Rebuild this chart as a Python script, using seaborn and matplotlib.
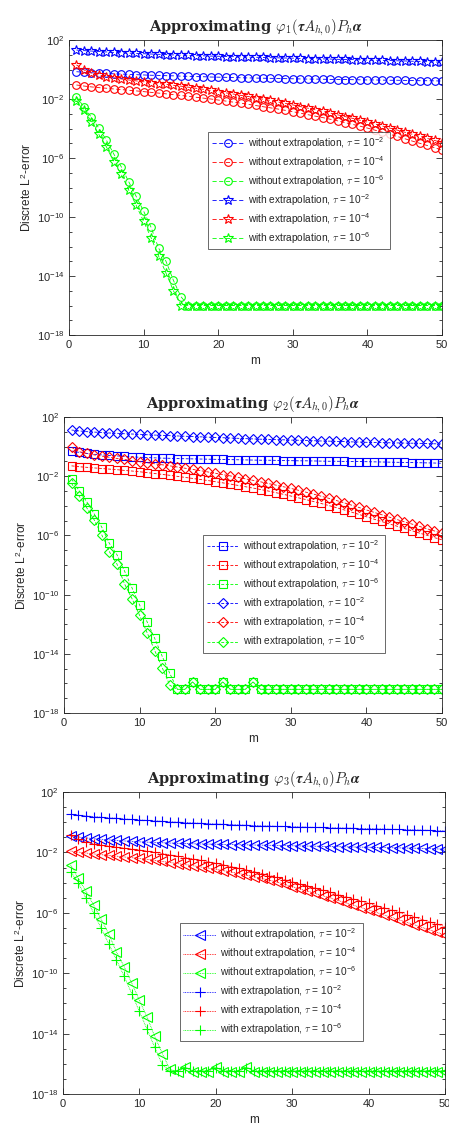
import numpy as np
import pandas as pd
import matplotlib
matplotlib.use("Agg")
import matplotlib.pyplot as plt
from matplotlib.ticker import NullFormatter, FixedLocator
import seaborn as sns

# ---------------- data (log10 of the discrete L2 error) ----------------
m = list(range(1, 51))

# Panel 1: phi_1
p1_wo_2 = [-0.15, -0.19, -0.22, -0.25, -0.27, -0.29, -0.31, -0.33, -0.35, -0.37,
           -0.39, -0.40, -0.42, -0.43, -0.45, -0.46, -0.48, -0.49, -0.51, -0.52,
           -0.53, -0.54, -0.56, -0.57, -0.58, -0.59, -0.60, -0.61, -0.62, -0.63,
           -0.64, -0.65, -0.65, -0.66, -0.67, -0.68, -0.68, -0.69, -0.70, -0.71,
           -0.71, -0.72, -0.73, -0.73, -0.74, -0.75, -0.76, -0.76, -0.77, -0.78]
p1_wo_4 = [-1.05, -1.12, -1.18, -1.23, -1.27, -1.32, -1.36, -1.41, -1.45, -1.50,
           -1.55, -1.60, -1.65, -1.70, -1.76, -1.82, -1.88, -1.94, -2.00, -2.07,
           -2.14, -2.21, -2.28, -2.36, -2.44, -2.52, -2.60, -2.68, -2.77, -2.86,
           -2.96, -3.06, -3.16, -3.26, -3.37, -3.48, -3.60, -3.72, -3.84, -3.97,
           -4.11, -4.25, -4.39, -4.54, -4.69, -4.85, -5.00, -5.15, -5.30, -5.46]
p1_wo_6 = [-1.84, -2.55, -3.24, -3.97, -4.78, -5.73, -6.59, -7.60, -8.60, -9.60,
           -10.70, -12.10, -13.00, -14.30, -15.40] + [-16.0] * 35
p1_w_2 = [1.32, 1.28, 1.25, 1.22, 1.19, 1.16, 1.14, 1.11, 1.09, 1.07,
          1.05, 1.03, 1.01, 0.99, 0.97, 0.96, 0.94, 0.93, 0.91, 0.90,
          0.88, 0.87, 0.86, 0.84, 0.83, 0.82, 0.80, 0.79, 0.78, 0.77,
          0.75, 0.74, 0.73, 0.72, 0.71, 0.69, 0.68, 0.67, 0.66, 0.64,
          0.63, 0.62, 0.61, 0.59, 0.58, 0.56, 0.55, 0.53, 0.51, 0.49]
p1_w_4 = [0.31, -0.03, -0.24, -0.39, -0.50, -0.57, -0.64, -0.71, -0.77, -0.83,
          -0.89, -0.95, -1.01, -1.07, -1.13, -1.20, -1.27, -1.34, -1.42, -1.50,
          -1.58, -1.66, -1.75, -1.83, -1.92, -2.01, -2.10, -2.20, -2.30, -2.40,
          -2.51, -2.62, -2.73, -2.84, -2.95, -3.07, -3.19, -3.31, -3.44, -3.57,
          -3.70, -3.83, -3.97, -4.11, -4.25, -4.39, -4.53, -4.67, -4.81, -4.96]
p1_w_6 = [-2.14, -2.75, -3.54, -4.40, -5.23, -6.25, -7.10, -8.17, -9.20, -10.30,
          -11.40, -12.64, -13.80, -15.00] + [-16.0] * 36

# Panel 2: phi_2
p2_wo_2 = [-0.30, -0.39, -0.46, -0.52, -0.56, -0.60, -0.63, -0.66, -0.69, -0.72,
           -0.74, -0.76, -0.78, -0.79, -0.81, -0.82, -0.83, -0.84, -0.85, -0.86,
           -0.87, -0.88, -0.89, -0.90, -0.91, -0.92, -0.92, -0.93, -0.94, -0.95,
           -0.96, -0.96, -0.97, -0.98, -0.99, -0.99, -1.00, -1.01, -1.01, -1.02,
           -1.03, -1.04, -1.05, -1.06, -1.07, -1.08, -1.09, -1.10, -1.11, -1.13]
p2_wo_4 = [-1.30, -1.36, -1.40, -1.44, -1.48, -1.52, -1.56, -1.61, -1.65, -1.70,
           -1.76, -1.82, -1.88, -1.94, -2.01, -2.08, -2.15, -2.22, -2.29, -2.37,
           -2.45, -2.53, -2.62, -2.71, -2.80, -2.90, -3.00, -3.11, -3.22, -3.34,
           -3.46, -3.58, -3.71, -3.84, -3.98, -4.12, -4.27, -4.42, -4.58, -4.74,
           -4.90, -5.06, -5.22, -5.37, -5.53, -5.68, -5.84, -5.99, -6.15, -6.30]
p2_wo_6 = [-2.19, -2.98, -3.72, -4.55, -5.45, -6.54, -7.30, -8.40, -9.55, -10.70,
           -11.85, -12.96, -14.18, -15.33, -16.40, -16.40, -15.90, -16.40, -16.40, -16.40,
           -15.90, -16.40, -16.40, -16.40, -15.90] + [-16.40] * 25
p2_w_2 = [1.12, 1.06, 1.01, 0.98, 0.95, 0.92, 0.90, 0.87, 0.85, 0.83,
          0.80, 0.78, 0.76, 0.74, 0.72, 0.70, 0.68, 0.66, 0.64, 0.62,
          0.60, 0.58, 0.56, 0.54, 0.52, 0.50, 0.49, 0.47, 0.46, 0.44,
          0.43, 0.41, 0.40, 0.38, 0.37, 0.35, 0.34, 0.32, 0.31, 0.29,
          0.28, 0.27, 0.26, 0.25, 0.24, 0.23, 0.22, 0.21, 0.19, 0.18]
p2_w_4 = [-0.05, -0.34, -0.46, -0.56, -0.64, -0.72, -0.80, -0.87, -0.95, -1.02,
          -1.09, -1.16, -1.23, -1.30, -1.38, -1.46, -1.54, -1.62, -1.71, -1.80,
          -1.89, -1.98, -2.08, -2.18, -2.28, -2.38, -2.49, -2.60, -2.71, -2.82,
          -2.95, -3.08, -3.21, -3.35, -3.49, -3.64, -3.79, -3.95, -4.11, -4.28,
          -4.44, -4.60, -4.76, -4.92, -5.08, -5.23, -5.39, -5.55, -5.70, -5.86]
p2_w_6 = [-2.48, -3.34, -4.13, -4.96, -5.97, -7.10, -7.93, -9.27, -10.28, -11.40,
          -12.58, -13.78, -14.95, -16.13, -16.40, -16.40, -15.90, -16.40, -16.40, -16.40,
          -15.90, -16.40, -16.40, -16.40, -15.90] + [-16.40] * 25

# Panel 3: phi_3
p3_wo_2 = [-0.91, -0.98, -1.04, -1.09, -1.13, -1.17, -1.20, -1.24, -1.27, -1.30,
           -1.32, -1.34, -1.36, -1.38, -1.40, -1.41, -1.43, -1.44, -1.45, -1.46,
           -1.47, -1.48, -1.49, -1.50, -1.51, -1.52, -1.53, -1.54, -1.55, -1.56,
           -1.57, -1.58, -1.59, -1.60, -1.61, -1.62, -1.63, -1.64, -1.65, -1.66,
           -1.67, -1.68, -1.69, -1.70, -1.71, -1.72, -1.74, -1.75, -1.77, -1.79]
p3_wo_4 = [-1.91, -1.98, -2.04, -2.10, -2.15, -2.20, -2.25, -2.30, -2.35, -2.40,
           -2.46, -2.53, -2.60, -2.67, -2.74, -2.81, -2.88, -2.96, -3.04, -3.12,
           -3.21, -3.30, -3.40, -3.50, -3.61, -3.72, -3.84, -3.96, -4.11, -4.27,
           -4.42, -4.57, -4.72, -4.87, -5.02, -5.18, -5.34, -5.50, -5.65, -5.81,
           -5.97, -6.14, -6.30, -6.47, -6.63, -6.80, -6.97, -7.13, -7.30, -7.47]
p3_wo_6 = [-2.83, -3.72, -4.56, -5.48, -6.43, -7.42, -8.60, -9.56, -10.66, -11.80,
           -12.90, -14.18, -15.32, -16.37, -16.53, -16.20, -16.53, -16.53, -16.53, -16.20,
           -16.53, -16.53, -16.53, -16.20] + [-16.53] * 26
p3_w_2 = [0.52, 0.46, 0.41, 0.37, 0.33, 0.29, 0.26, 0.22, 0.18, 0.15,
          0.12, 0.09, 0.06, 0.03, 0.00, -0.02, -0.05, -0.07, -0.10, -0.12,
          -0.14, -0.16, -0.18, -0.20, -0.22, -0.24, -0.25, -0.27, -0.28, -0.30,
          -0.31, -0.33, -0.34, -0.35, -0.37, -0.38, -0.39, -0.40, -0.42, -0.43,
          -0.44, -0.45, -0.47, -0.48, -0.49, -0.51, -0.52, -0.54, -0.56, -0.58]
p3_w_4 = [-0.85, -1.13, -1.30, -1.42, -1.52, -1.59, -1.66, -1.72, -1.78, -1.84,
          -1.92, -2.00, -2.08, -2.16, -2.25, -2.34, -2.43, -2.52, -2.62, -2.72,
          -2.83, -2.94, -3.05, -3.16, -3.28, -3.40, -3.53, -3.66, -3.80, -3.94,
          -4.08, -4.22, -4.36, -4.50, -4.64, -4.79, -4.93, -5.08, -5.22, -5.37,
          -5.52, -5.67, -5.83, -5.98, -6.14, -6.29, -6.45, -6.60, -6.76, -6.92]
p3_w_6 = [-3.28, -4.00, -5.04, -5.99, -7.03, -8.07, -9.12, -10.20, -11.36, -12.53,
          -13.72, -14.90, -16.07, -16.45, -16.45, -16.25, -16.45, -16.45, -16.45, -16.25,
          -16.45, -16.45, -16.45, -16.25] + [-16.45] * 26

titles = [r"Approximating $\boldsymbol{\varphi_1(\tau A_{h,0})P_h\alpha}$",
          r"Approximating $\boldsymbol{\varphi_2(\tau A_{h,0})P_h\alpha}$",
          r"Approximating $\boldsymbol{\varphi_3(\tau A_{h,0})P_h\alpha}$"]
legend_labels = [r"without extrapolation, $\tau$ = 10$^{\mathdefault{-2}}$",
                 r"without extrapolation, $\tau$ = 10$^{\mathdefault{-4}}$",
                 r"without extrapolation, $\tau$ = 10$^{\mathdefault{-6}}$",
                 r"with extrapolation, $\tau$ = 10$^{\mathdefault{-2}}$",
                 r"with extrapolation, $\tau$ = 10$^{\mathdefault{-4}}$",
                 r"with extrapolation, $\tau$ = 10$^{\mathdefault{-6}}$"]
xticks = [0, 10, 20, 30, 40, 50]
yticks_major = [1e-18, 1e-14, 1e-10, 1e-6, 1e-2, 1e2]

# ---------------- style ----------------
sns.set_style("ticks")
plt.rcParams['font.family'] = ['Liberation Sans', 'DejaVu Sans']
plt.rcParams['mathtext.fontset'] = 'cm'
plt.rcParams['axes.unicode_minus'] = False

axcol = (0.15, 0.15, 0.15)
colors = ['#0000ff', '#ff0000', '#00ff00', '#0000ff', '#ff0000', '#00ff00']

panels = [
    dict(series=[p1_wo_2, p1_wo_4, p1_wo_6, p1_w_2, p1_w_4, p1_w_6],
         markers=['o', 'o', 'o', '*', '*', '*'], msize=[5.5, 5.5, 5.5, 7.5, 7.5, 7.5],
         ls=(0, (5, 3)), rect=[69, 40, 442, 335], leg=[0.373, 0.29, 0.487, 0.344]),
    dict(series=[p2_wo_2, p2_wo_4, p2_wo_6, p2_w_2, p2_w_4, p2_w_6],
         markers=['s', 's', 's', 'D', 'D', 'D'], msize=[5.5, 5.5, 5.5, 5.0, 5.0, 5.0],
         ls=(0, (3.5, 2)), rect=[64, 417, 442, 713], leg=[0.368, 0.204, 0.482, 0.346]),
    dict(series=[p3_wo_2, p3_wo_4, p3_wo_6, p3_w_2, p3_w_4, p3_w_6],
         markers=['<', '<', '<', '+', '+', '+'], msize=[6.5, 6.5, 6.5, 7.0, 7.0, 7.0],
         ls=(0, (1, 1)), rect=[63, 792, 445, 1094], leg=[0.306, 0.176, 0.479, 0.344]),
]

W, H = 449, 1128
fig = plt.figure(figsize=(W / 100, H / 100), dpi=100)

for pi, p in enumerate(panels):
    x0, y0, x1, y1 = p['rect']
    ax = fig.add_axes([x0 / W, 1 - y1 / H, (x1 - x0) / W, (y1 - y0) / H])
    for si, vals in enumerate(p['series']):
        df = pd.DataFrame({'m': m, 'err': 10.0 ** np.array(vals)})
        c = colors[si]
        sns.lineplot(data=df, x='m', y='err', ax=ax, color=c, linestyle=p['ls'],
                     linewidth=0.6, marker=p['markers'][si], markersize=p['msize'][si],
                     markerfacecolor='none', markeredgecolor=c, markeredgewidth=0.8,
                     label=legend_labels[si], sort=False, errorbar=None)
    ax.set_yscale('log')
    ax.set_xlim(0, 50)
    ax.set_ylim(1e-18, 1e2)
    ax.set_xticks(xticks)
    ax.set_yticks(yticks_major)
    ax.yaxis.set_minor_locator(FixedLocator([10.0 ** k for k in range(-18, 3)]))
    ax.yaxis.set_minor_formatter(NullFormatter())
    ax.tick_params(axis='both', which='both', direction='in', top=True, right=True,
                   colors=axcol, labelsize=8, labelcolor=axcol, width=0.6)
    ax.tick_params(which='major', length=4)
    ax.tick_params(which='minor', length=2.5)
    ax.xaxis.set_minor_locator(FixedLocator([]))
    for sp in ax.spines.values():
        sp.set_color(axcol)
        sp.set_linewidth(0.6)
    ax.set_xlabel('m', fontsize=8.5, color=axcol)
    ax.set_ylabel(r'Discrete L$^{\mathdefault{2}}$-error', fontsize=8.5, color=axcol, labelpad=2)
    ax.set_title(titles[pi], fontsize=10.5, fontweight='bold', family='DejaVu Serif', pad=6)
    leg = ax.legend(loc='lower left', bbox_to_anchor=p['leg'], mode='expand',
                    fontsize=7.3, frameon=True, fancybox=False, edgecolor=axcol,
                    handlelength=3.2, handletextpad=0.4, borderpad=0.35,
                    labelspacing=0.35, borderaxespad=0)
    leg.get_frame().set_linewidth(0.6)
    for t in leg.get_texts():
        t.set_color(axcol)

fig.savefig('out.png', dpi=100)
